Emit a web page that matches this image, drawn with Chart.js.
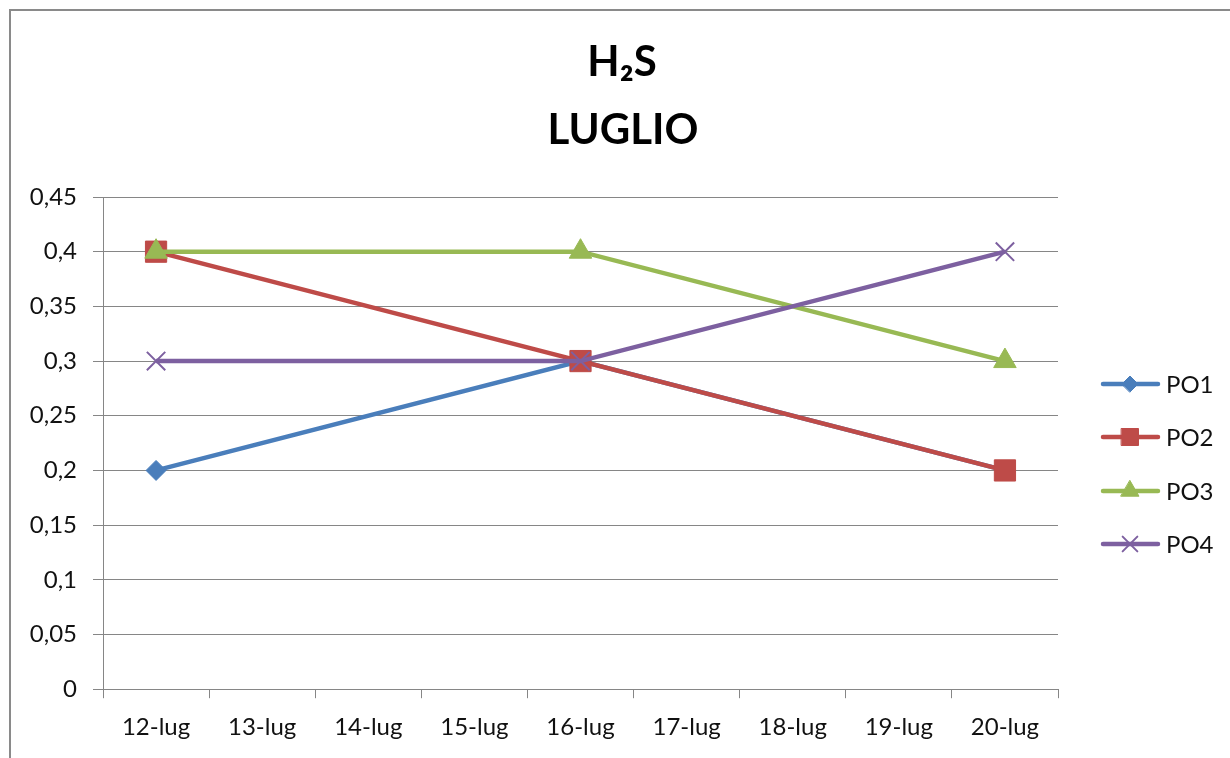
<!DOCTYPE html>
<html>
<head>
<meta charset="utf-8">
<script src="https://cdn.jsdelivr.net/npm/chart.js@4"></script>
<style>
  html, body { margin: 0; padding: 0; background: #fff; }
  #wrap { width: 1230px; height: 758px; }
</style>
</head>
<body>
<div id="wrap"><canvas id="chart" width="1230" height="758"></canvas></div>
<script>
// categories and series (only 12, 16 and 20 have data)
const days = ["12-lug", "13-lug", "14-lug", "15-lug", "16-lug", "17-lug", "18-lug", "19-lug", "20-lug"];
const po1 = [0.2, null, null, null, 0.3, null, null, null, 0.2];
const po2 = [0.4, null, null, null, 0.3, null, null, null, 0.2];
const po3 = [0.4, null, null, null, 0.4, null, null, null, 0.3];
const po4 = [0.3, null, null, null, 0.3, null, null, null, 0.4];
const seriesNames = ["PO1", "PO2", "PO3", "PO4"];
const titleLines = ["H\u2082S", "LUGLIO"];

const FONT = "Lato, 'DejaVu Sans', sans-serif";
const GRID = "#868686";

const styles = [
    { color: "#4A7EBB", point: "rectRot", radius: 10, bw: 1 },
    { color: "#BE4B48", point: "rect", radius: 15, bw: 1 },
    { color: "#98B954", point: "triangle", radius: 13, bw: 1 },
    { color: "#7D60A0", point: "crossRot", radius: 13, bw: 2 }
];

function makeSet(name, data, i) {
    const s = styles[i];
    return {
        label: name,
        data: data,
        borderColor: s.color,
        backgroundColor: s.color,
        borderWidth: 4.5,
        pointStyle: s.point,
        pointRadius: s.radius,
        pointBorderWidth: s.bw,
        pointBorderColor: s.color,
        pointBackgroundColor: s.color,
        spanGaps: true,
        tension: 0,
        order: 3 - i
    };
}

// gray frame round the chart + the two title lines centred on the page
const framePlugin = {
    id: "frame",
    beforeDraw(c) {
        const ctx = c.ctx;
        ctx.save();
        ctx.strokeStyle = "#8a8a8a";
        ctx.lineWidth = 2;
        ctx.beginPath();
        ctx.moveTo(10, 760);
        ctx.lineTo(10, 10);
        ctx.lineTo(1232, 10);
        ctx.stroke();

        ctx.fillStyle = "#000";
        ctx.font = "bold 42px " + FONT;
        ctx.textAlign = "center";
        ctx.textBaseline = "middle";
        ctx.fillText(titleLines[0], 622, 62);
        ctx.fillText(titleLines[1], 623, 130);
        ctx.restore();
    }
};

// legend on the right: line sample with marker, then name
const legendPlugin = {
    id: "sideLegend",
    afterDraw(c) {
        const ctx = c.ctx;
        const ys = [384, 437, 491, 544];
        ctx.save();
        c.data.datasets.forEach((ds, i) => {
            const s = styles[i];
            const y = ys[i];
            ctx.strokeStyle = s.color;
            ctx.lineWidth = 4.5;
            ctx.lineCap = "round";
            ctx.beginPath();
            ctx.moveTo(1103, y);
            ctx.lineTo(1158, y);
            ctx.stroke();
            ctx.fillStyle = s.color;
            ctx.strokeStyle = s.color;
            ctx.lineWidth = s.bw;
            Chart.helpers.drawPoint(ctx, { pointStyle: s.point, radius: s.radius * 0.8, rotation: 0, borderWidth: s.bw }, 1130, y);
            ctx.fillStyle = "#111";
            ctx.font = "24px " + FONT;
            ctx.textAlign = "left";
            ctx.textBaseline = "middle";
            ctx.fillText(ds.label, 1166, y + 1);
        });
        ctx.restore();
    }
};

const chart = new Chart(document.getElementById("chart").getContext("2d"), {
    type: "line",
    data: {
        labels: days,
        datasets: [
            makeSet(seriesNames[0], po1, 0),
            makeSet(seriesNames[1], po2, 1),
            makeSet(seriesNames[2], po3, 2),
            makeSet(seriesNames[3], po4, 3)
        ]
    },
    options: {
        responsive: false,
        animation: false,
        layout: { padding: { left: 0, right: 172, top: 197, bottom: 1 } },
        plugins: {
            legend: { display: false },
            tooltip: { enabled: false },
            title: { display: false }
        },
        scales: {
            x: {
                offset: true,
                grid: { offset: true, drawOnChartArea: false, tickLength: 9, color: GRID },
                border: { color: GRID, width: 1 },
                ticks: { color: "#111", font: { family: FONT, size: 24 }, padding: 15, autoSkip: false, maxRotation: 0 }
            },
            y: {
                min: 0,
                max: 0.45,
                afterFit(scale) { scale.width = 103; },
                grid: { color: GRID, tickLength: 10 },
                border: { color: GRID, width: 1 },
                ticks: {
                    stepSize: 0.05,
                    color: "#111",
                    padding: 16,
                    font: { family: FONT, size: 24 },
                    callback: v => String(Math.round(v * 100) / 100).replace(".", ",")
                }
            }
        }
    },
    plugins: [framePlugin, legendPlugin]
});
</script>
</body>
</html>
